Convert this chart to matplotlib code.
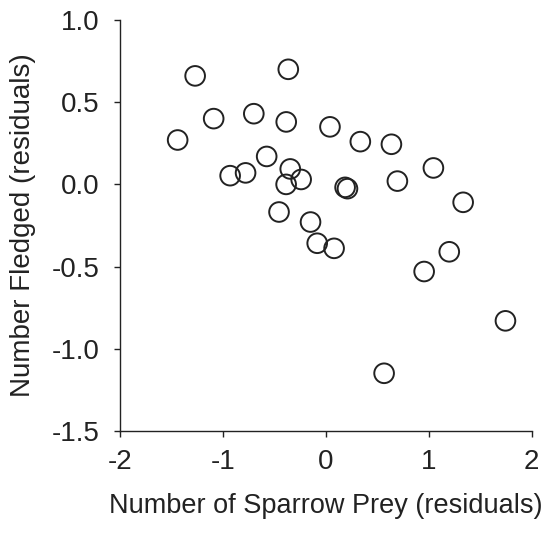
import matplotlib
matplotlib.use("Agg")
import matplotlib.pyplot as plt

# residuals
sparrow_prey = [-1.44, -1.27, -1.09, -0.70, -0.93, -0.78, -0.575, -0.365, -0.385,
                -0.346, -0.386, -0.24, -0.455, -0.149, -0.084, 0.08, 0.04, 0.335,
                0.187, 0.21, 0.637, 0.695, 1.045, 1.334, 1.199, 0.955, 1.745, 0.566]
fledged = [0.27, 0.66, 0.40, 0.43, 0.053, 0.07, 0.17, 0.70, 0.38,
           0.094, 0.00, 0.03, -0.168, -0.229, -0.358, -0.389, 0.35, 0.26,
           -0.018, -0.026, 0.244, 0.02, 0.10, -0.109, -0.41, -0.53, -0.83, -1.149]

x_ticks = [-2, -1, 0, 1, 2]
y_ticks = [1.0, 0.5, 0.0, -0.5, -1.0, -1.5]

plt.rcParams['font.family'] = ['Liberation Sans', 'DejaVu Sans']

fig = plt.figure(figsize=(5.46, 5.33), dpi=100)
ax = fig.add_axes([0.2198, 0.1914, 0.754, 0.7711])

ax.scatter(sparrow_prey, fledged, s=200, facecolors='none', edgecolors='#222222',
           linewidths=1.4, clip_on=False, zorder=3)

ax.set_xlim(-2, 2)
ax.set_ylim(-1.5, 1.0)
ax.set_xticks(x_ticks)
ax.set_xticklabels([str(t) for t in x_ticks])
ax.set_yticks(y_ticks)
ax.set_yticklabels([f"{t:.1f}" for t in y_ticks])

for side in ['top', 'right']:
    ax.spines[side].set_visible(False)
for side in ['left', 'bottom']:
    ax.spines[side].set_linewidth(1.0)
    ax.spines[side].set_color('#222222')

ax.tick_params(axis='both', direction='out', length=4, width=1.0, color='#222222',
               labelsize=20, labelcolor='#222222')
ax.tick_params(axis='y', pad=11)
ax.tick_params(axis='x', pad=9)

ax.set_xlabel('Number of Sparrow Prey (residuals)', fontsize=19.5, color='#222222', labelpad=13)
ax.set_ylabel('Number Fledged (residuals)', fontsize=20, color='#222222', labelpad=11)

fig.savefig('out.png', dpi=100)
